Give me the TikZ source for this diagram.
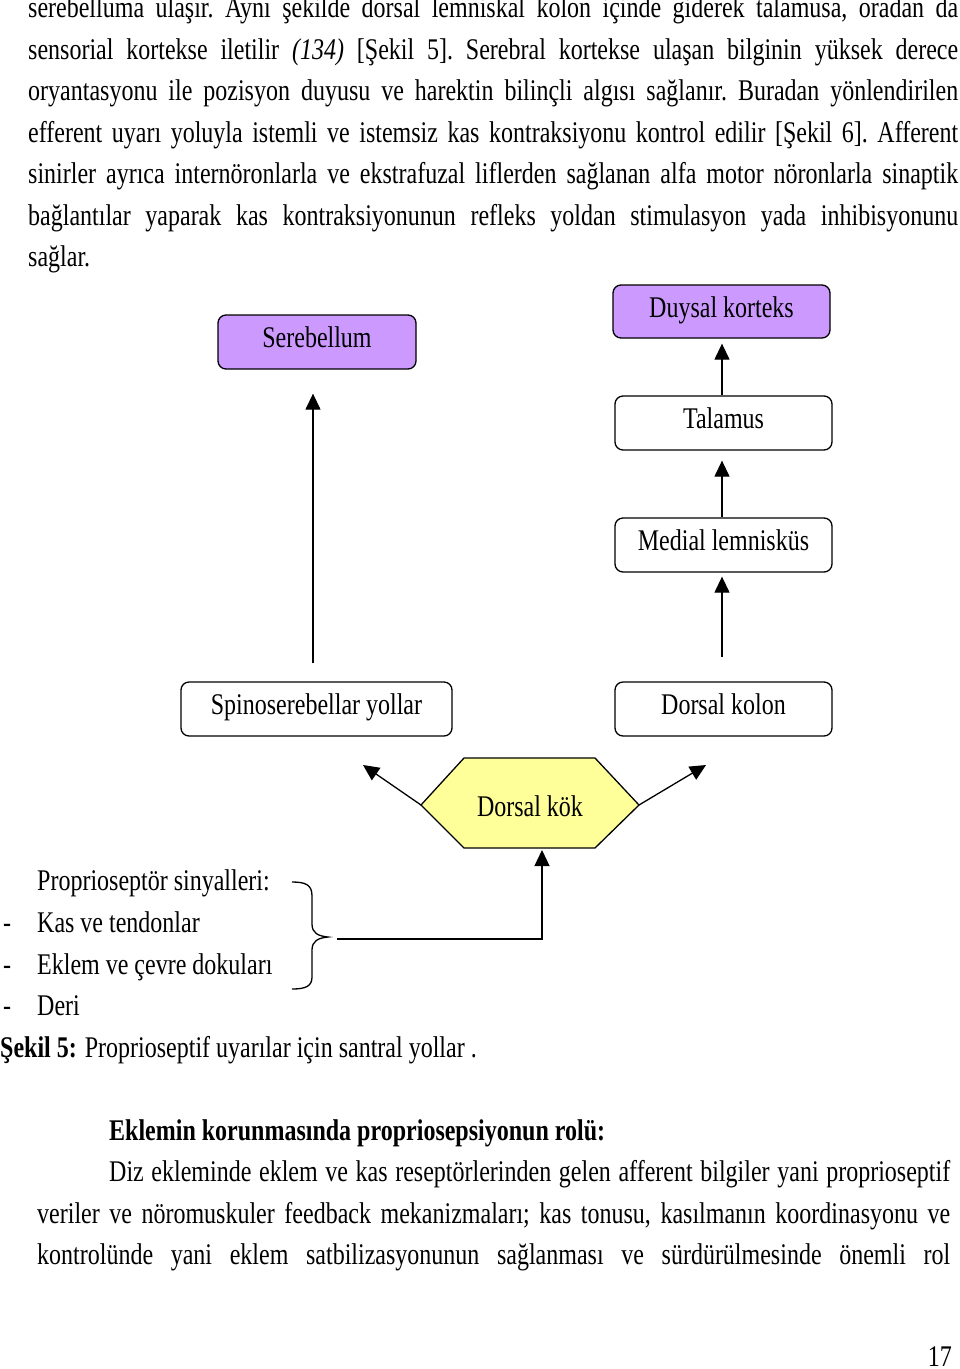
\documentclass[tikz,border=0pt]{standalone}
\usepackage{fontspec}
\setmainfont{Liberation Serif}[FakeStretch=0.8]
\usetikzlibrary{arrows.meta}
\definecolor{boxpurple}{HTML}{CC99FF}
\definecolor{hexyellow}{HTML}{FFFF99}
\newcommand{\jline}[2]{\hbox to #1{\frenchspacing\spaceskip=6pt plus 1fil\relax #2}}
\begin{document}
\begin{tikzpicture}[x=1pt,y=-1pt,
  every node/.style={inner sep=0pt, font=\fontsize{30}{36}\selectfont},
  txt/.style={anchor=base west},
  box/.style={draw=black, line width=1.3pt, rounded corners=8pt, minimum height=54pt,
              text height=20pt, text depth=9pt},
  arr/.style={line width=1.3pt, -{Triangle[length=16pt,width=15pt]}}]
\useasboundingbox[fill=white] (0,0) rectangle (960,1369);

% body text top
\node[txt] (p1) at (28,17.5) {\jline{930pt}{serebelluma ulaşır. Aynı şekilde dorsal lemniskal kolon içinde giderek talamusa, oradan da}};
\node[txt] (p2) at (28,59) {\jline{930pt}{sensorial kortekse iletilir \textit{(134)} [Şekil 5]. Serebral kortekse ulaşan bilginin yüksek derece}};
\node[txt] (p3) at (28,100.5) {\jline{930pt}{oryantasyonu ile pozisyon duyusu ve harektin bilinçli algısı sağlanır. Buradan yönlendirilen}};
\node[txt] (p4) at (28,142) {\jline{930pt}{efferent uyarı yoluyla istemli ve istemsiz kas kontraksiyonu kontrol edilir [Şekil 6]. Afferent}};
\node[txt] (p5) at (28,183.5) {\jline{930pt}{sinirler ayrıca internöronlarla ve ekstrafuzal liflerden sağlanan alfa motor nöronlarla sinaptik}};
\node[txt] (p6) at (28,225) {\jline{930pt}{bağlantılar yaparak kas kontraksiyonunun refleks yoldan stimulasyon yada inhibisyonunu}};
\node[txt] (p7) at (28,266.5) {sağlar.};

% boxes
\node[box, fill=boxpurple, minimum width=198pt] (sere) at (317,342) {Serebellum};
\node[box, fill=boxpurple, minimum width=217pt, minimum height=53pt] (duy) at (721.5,311.5) {Duysal korteks};
\node[box, minimum width=217pt] (tal) at (723.5,423) {Talamus};
\node[box, minimum width=217pt] (med) at (723.5,545) {Medial lemnisküs};
\node[box, minimum width=271pt] (spino) at (316.5,709) {Spinoserebellar yollar};
\node[box, minimum width=217pt] (dkol) at (723.5,709) {Dorsal kolon};

\coordinate (sx) at (313,0);
\coordinate (rx) at (722,0);
\draw[arr, shorten <=18pt, shorten >=24pt] (spino.north -| sx) -- (sere.south -| sx);
\draw[arr, shorten >=5pt] (tal.north -| rx) -- (duy.south -| rx);
\draw[arr, shorten >=10pt] (med.north -| rx) -- (tal.south -| rx);
\draw[arr, shorten <=24pt, shorten >=4pt] (dkol.north -| rx) -- (med.south -| rx);

% hexagon
\coordinate (hL) at (421,805);
\coordinate (hTL) at (464,758);
\coordinate (hTR) at (595,758);
\coordinate (hR) at (639,805);
\coordinate (hBR) at (595,848);
\coordinate (hBL) at (464,848);
\draw[line width=1.3pt, fill=hexyellow] (hL) -- (hTL) -- (hTR) -- (hR) -- (hBR) -- (hBL) -- cycle;
\node[anchor=base] (dk) at (530,816) {Dorsal kök};
\coordinate (tipL) at (363,765);
\coordinate (tipR) at (706,765);
\draw[arr] (hL) -- (tipL);
\draw[arr] (hR) -- (tipR);

% brace and feed line
\draw[line width=1.3pt] (292,882) .. controls (306,882) and (312,885) .. (312,896) -- (312,924)
  .. controls (312,933) and (318,936) .. (328,937)
  .. controls (318,938) and (312,941) .. (312,950) -- (312,977)
  .. controls (312,986) and (306,989) .. (292,989);
\coordinate (bs) at (337,939);
\coordinate (bc) at (542,939);
\coordinate (hB) at (542,850);
\draw[arr] (bs) -- (bc) -- (hB);

% list
\node[txt] (l0) at (37,890) {Proprioseptör sinyalleri:};
\node[txt] (d1) at (3,932) {-};
\node[txt] (l1) at (37,932) {Kas ve tendonlar};
\node[txt] (d2) at (3,974) {-};
\node[txt] (l2) at (37,974) {Eklem ve çevre dokuları};
\node[txt] (d3) at (3,1015) {-};
\node[txt] (l3) at (37,1015) {Deri};
\node[txt] (cap) at (0,1057) {\textbf{Şekil 5:} Proprioseptif uyarılar için santral yollar .};

% bottom text
\node[txt] (h1) at (109,1140) {\textbf{Eklemin korunmasında propriosepsiyonun rolü:}};
\node[txt] (b1) at (109,1181.5) {\jline{841pt}{Diz ekleminde eklem ve kas reseptörlerinden gelen afferent bilgiler yani proprioseptif}};
\node[txt] (b2) at (37,1223) {\jline{913pt}{veriler ve nöromuskuler feedback mekanizmaları; kas tonusu, kasılmanın koordinasyonu ve}};
\node[txt] (b3) at (37,1264.5) {\jline{913pt}{kontrolünde yani eklem satbilizasyonunun sağlanması ve sürdürülmesinde önemli rol}};
\node[anchor=base east] (pg) at (952,1366) {17};
\end{tikzpicture}
\end{document}
